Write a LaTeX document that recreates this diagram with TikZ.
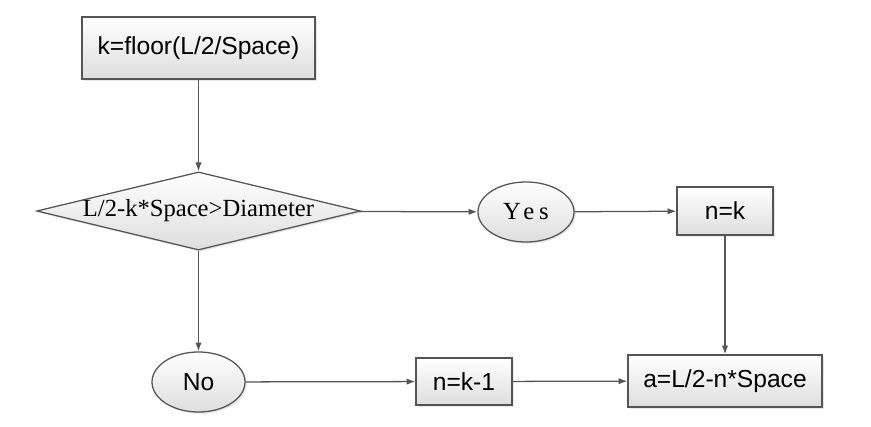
\documentclass[tikz,border=0pt]{standalone}
\usepackage{fontspec}
\setmainfont{Liberation Serif}
\setsansfont{Liberation Sans}
\usepackage{tikz}
\usetikzlibrary{arrows.meta,shapes.geometric,shadows}

\definecolor{linegray}{HTML}{555555}

\begin{document}
\begin{tikzpicture}[
    x=0.025cm, y=-0.025cm,
    procbox/.style={draw=linegray, line width=0.9pt, top color=white, bottom color=black!13,
                 drop shadow={opacity=0.2, shadow xshift=1.2pt, shadow yshift=-1.2pt},
                 font=\sffamily\fontsize{17.5}{20}\selectfont, inner sep=0pt},
    answer/.style={procbox, ellipse},
    test/.style={procbox, diamond, aspect=4.14, font=\rmfamily\fontsize{17.5}{20}\selectfont},
    flow/.style={draw=linegray, line width=0.9pt, -{Latex[length=2.2mm,width=1.6mm]}},
]
\useasboundingbox (0,0) rectangle (871,427);
\node[procbox, minimum width=5.825cm, minimum height=1.55cm] (floor) at (198.5, 48) {k=floor(L/2/Space)};
\node[test, minimum width=8.075cm, minimum height=1.95cm] (cond) at (198.5, 211) {L/2-k*Space>Diameter};
\node[answer, minimum width=2.4cm, minimum height=1.5cm, font=\rmfamily\fontsize{17.5}{20}\selectfont\addfontfeature{LetterSpace=20}] (yes) at (526, 212) {Yes};
\node[procbox, minimum width=2.4cm, minimum height=1.2cm] (nk) at (725, 211) {n=k};
\node[answer, minimum width=2.325cm, minimum height=1.5cm] (no) at (198.5, 382) {No};
\node[procbox, minimum width=2.4cm, minimum height=1.175cm] (nk1) at (464, 381.5) {n=k-1};
\node[procbox, minimum width=4.85cm, minimum height=1.3cm] (pos) at (725, 381) {a=L/2-n*Space};

\draw[flow] (floor) -- (cond);
\draw[flow] (cond) -- (yes);
\draw[flow] (yes) -- (nk);
\draw[flow] (nk) -- (pos);
\draw[flow] (cond) -- (no);
\draw[flow] (no) -- (nk1);
\draw[flow] (nk1) -- (pos);
\end{tikzpicture}
\end{document}
